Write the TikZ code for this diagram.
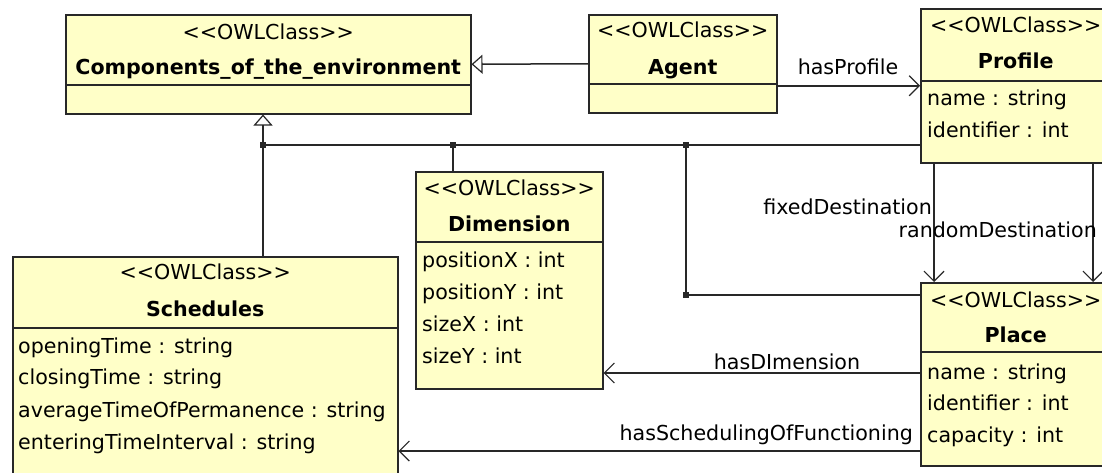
\documentclass[tikz,border=0pt]{standalone}
\usepackage{fontspec}
\setmainfont{DejaVu Sans}[Ligatures=TeXOff]
\usetikzlibrary{arrows.meta,calc}
\definecolor{classfill}{RGB}{255,255,200}
\definecolor{ink}{RGB}{40,40,40}
\newcommand\owlstereo{<{}<OWLClass>{}>}
\tikzset{
  classbox/.style={draw=ink, fill=classfill, line width=1.5pt, anchor=north west, inner sep=0pt},
  txt/.style={font=\fontsize{20.6}{24}\selectfont, inner sep=0pt, text height=18pt, text depth=4pt},
  stereo/.style={txt},
  cname/.style={txt, font=\fontsize{20.6}{24}\selectfont\bfseries},
  attr/.style={txt, anchor=west},
  lbl/.style={txt},
  link/.style={draw=ink, line width=1.5pt},
  nav/.style={link, -{Straight Barb[length=10pt,width=20pt,line width=1.2pt]}},
  isa/.style={link, -{Triangle[open,length=11pt,width=19pt,line width=1.2pt,fill=white]}},
  joint/.style={fill=ink, minimum size=6pt, inner sep=0pt, shape=rectangle},
}
\begin{document}
\begin{tikzpicture}[x=1pt,y=-1pt]
\useasboundingbox (0,0) rectangle (1102,472);

% ---- class boxes ----
\node[classbox, minimum width=405pt, minimum height=99pt]  (comp)  at (65,14)  {};
\node[classbox, minimum width=188pt, minimum height=98pt]  (agent) at (588,14) {};
\node[classbox, minimum width=190pt, minimum height=154pt] (prof)  at (920,8)  {};
\node[classbox, minimum width=187pt, minimum height=217pt] (dim)   at (415,171) {};
\node[classbox, minimum width=385pt, minimum height=230pt] (sched) at (12,256) {};
\node[classbox, minimum width=190pt, minimum height=183pt] (place) at (920,282) {};

% compartment separators
\draw[link] (comp.west |- 0,85)   -- (comp.east |- 0,85);
\draw[link] (agent.west |- 0,84)  -- (agent.east |- 0,84);
\draw[link] (prof.west |- 0,81)   -- (prof.east |- 0,81);
\draw[link] (dim.west |- 0,242)   -- (dim.east |- 0,242);
\draw[link] (sched.west |- 0,328) -- (sched.east |- 0,328);
\draw[link] (place.west |- 0,352) -- (place.east |- 0,352);

% ---- class headers ----
\node[stereo] (compS) at (comp.north |- 0,32) {\owlstereo};
\node[cname]  (compN) at (comp.north |- 0,67) {Components\_of\_the\_environment};
\node[stereo] (agentS) at (agent.north |- 0,30) {\owlstereo};
\node[cname]  (agentN) at (agent.north |- 0,67) {Agent};
\node[stereo] (profS) at (prof.north |- 0,25) {\owlstereo};
\node[cname]  (profN) at (prof.north |- 0,61) {Profile};
\node[stereo] (dimS) at (dim.north |- 0,188) {\owlstereo};
\node[cname]  (dimN) at (dim.north |- 0,224) {Dimension};
\node[stereo] (schedS) at (sched.north |- 0,272) {\owlstereo};
\node[cname]  (schedN) at (sched.north |- 0,309) {Schedules};
\node[stereo] (placeS) at (place.north |- 0,300) {\owlstereo};
\node[cname]  (placeN) at (place.north |- 0,335) {Place};

% ---- attributes ----
\node[attr] (pa1) at (927,98)  {name : string};
\node[attr] (pa2) at (927,130) {identifier : int};
\node[attr] (da1) at (422,260) {positionX : int};
\node[attr] (da2) at (422,292) {positionY : int};
\node[attr] (da3) at (422,324) {sizeX : int};
\node[attr] (da4) at (422,356) {sizeY : int};
\node[attr] (sa1) at (18,346) {openingTime : string};
\node[attr] (sa2) at (18,377) {closingTime : string};
\node[attr] (sa3) at (18,410) {averageTimeOfPermanence : string};
\node[attr] (sa4) at (18,442) {enteringTimeInterval : string};
\node[attr] (la1) at (927,372) {name : string};
\node[attr] (la2) at (927,403) {identifier : int};
\node[attr] (la3) at (927,435) {capacity : int};

% ---- generalisation tree ----
\coordinate (j1) at (263,145);
\coordinate (j2) at (453,145);
\coordinate (j3) at (686,145);
\coordinate (j4) at (686,295);
\draw[isa] (agent.west) -- (comp.east);
\draw[isa] (sched.north -| j1) -- (j1) -- (comp.south -| j1);
\draw[link] (j1) -- (prof.west |- j1);
\draw[link] (j2) -- (dim.north -| j2);
\draw[link] (j3) -- (j4) -- (place.west |- j4);
\foreach \j in {j1,j2,j3,j4} \node[joint] at (\j) {};

% ---- object properties ----
\draw[nav] (agent.east |- prof.west) -- (prof.west);
\node[lbl] (lp) at (848,67) {hasProfile};

\draw[nav] (prof.south -| 934,0) -- (place.north -| 934,0);
\node[lbl, anchor=east] (lf) at (932,207) {fixedDestination};
\draw[nav] (prof.south -| 1093,0) -- (place.north -| 1093,0);
\node[lbl, anchor=east] (lr) at (1097,230) {randomDestination};

\draw[nav] (place.west |- 0,373) -- (dim.east |- 0,373);
\node[lbl] (ld) at (787,362) {hasDImension};

\draw[nav] (place.west |- 0,451) -- (sched.east |- 0,451);
\node[lbl, anchor=east] (ls) at (913,433) {hasSchedulingOfFunctioning};
\end{tikzpicture}
\end{document}
